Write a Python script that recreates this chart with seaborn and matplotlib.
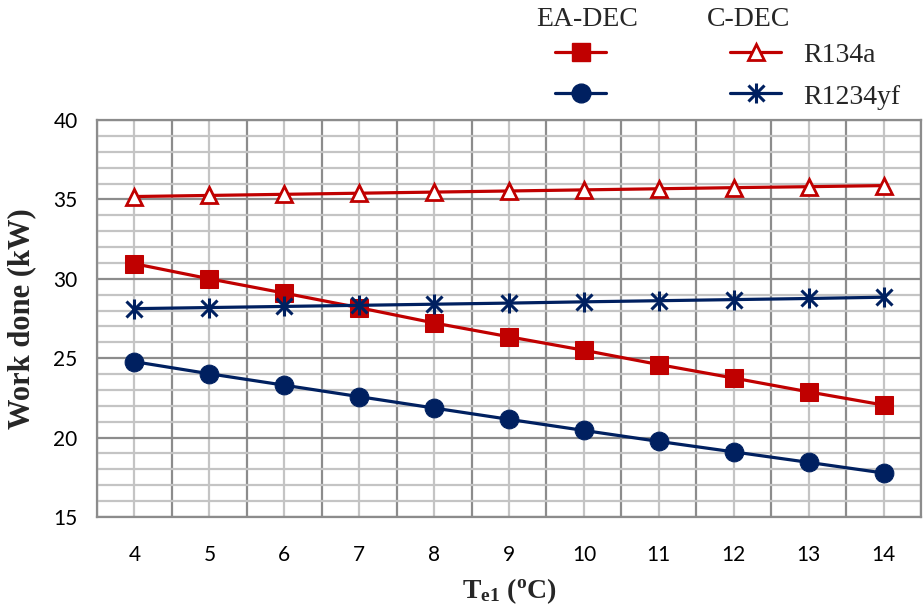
import matplotlib
matplotlib.use("Agg")
import matplotlib.pyplot as plt
from matplotlib.lines import Line2D
from matplotlib.ticker import MultipleLocator, FixedLocator
import seaborn as sns
import pandas as pd

te1 = [4, 5, 6, 7, 8, 9, 10, 11, 12, 13, 14]
ea_r134a = [30.95, 30.0, 29.1, 28.18, 27.22, 26.35, 25.5, 24.6, 23.75, 22.88, 22.05]
ea_r1234yf = [24.78, 24.02, 23.3, 22.58, 21.86, 21.15, 20.45, 19.76, 19.1, 18.44, 17.77]
c_r134a = [35.18, 35.25, 35.32, 35.39, 35.46, 35.53, 35.6, 35.67, 35.74, 35.8, 35.87]
c_r1234yf = [28.12, 28.19, 28.26, 28.33, 28.4, 28.47, 28.55, 28.62, 28.69, 28.76, 28.84]
y_ticks = [15, 20, 25, 30, 35, 40]
group_names = ["EA-DEC", "C-DEC"]
fluid_names = ["R134a", "R1234yf"]

red = "#C00000"
navy = "#002060"

sns.set_theme(style="white")
plt.rcParams["font.family"] = ["Liberation Serif", "DejaVu Serif"]
plt.rcParams["mathtext.fontset"] = "custom"
plt.rcParams["mathtext.rm"] = "Liberation Serif:bold"
plt.rcParams["mathtext.bf"] = "Liberation Serif:bold"
plt.rcParams["mathtext.it"] = "Liberation Serif:bold"

fig = plt.figure(figsize=(9.24, 6.09), dpi=100)
ax = fig.add_axes([97 / 924, 1 - 517 / 609, (921 - 97) / 924, (517 - 120) / 609])


def style(mk, col):
    kw = dict(marker=mk, color=col, linewidth=2.3)
    if mk == "s":
        kw.update(markersize=13.5, markerfacecolor=col, markeredgecolor=col)
    elif mk == "o":
        kw.update(markersize=13.5, markerfacecolor=col, markeredgecolor=col)
    elif mk == "^":
        kw.update(markersize=12, markerfacecolor="white", markeredgecolor=col, markeredgewidth=2.0)
    else:
        kw.update(markersize=11, markeredgecolor=col, markeredgewidth=2.2)
    return kw


series = [
    (ea_r134a, red, "s"),
    (ea_r1234yf, navy, "o"),
    (c_r134a, red, "^"),
    (c_r1234yf, navy, "x"),
]
for vals, col, mk in series:
    df = pd.DataFrame({"x": te1, "y": vals})
    sns.lineplot(data=df, x="x", y="y", ax=ax, zorder=3, **style(mk, col))

# asterisk: add a vertical bar to the "x" marker
ax.plot(te1, c_r1234yf, linestyle="none", marker="|", markersize=14,
        markeredgecolor=navy, markeredgewidth=2.2, zorder=4)

ax.set_xlim(3.5, 14.5)
ax.set_ylim(15, 40)
ax.xaxis.set_major_locator(FixedLocator(te1))
ax.xaxis.set_minor_locator(FixedLocator([v + 0.5 for v in [3] + te1]))
ax.yaxis.set_major_locator(FixedLocator(y_ticks))
ax.yaxis.set_minor_locator(MultipleLocator(1))

ax.grid(which="minor", axis="y", color="#c4c4c4", linewidth=1.6, zorder=0)
ax.grid(which="major", axis="y", color="#8c8c8c", linewidth=1.6, zorder=1)
ax.grid(which="major", axis="x", color="#c4c4c4", linewidth=1.6, zorder=0)
ax.grid(which="minor", axis="x", color="#8c8c8c", linewidth=1.6, zorder=1)
ax.set_axisbelow(True)

for s in ax.spines.values():
    s.set_color("#8c8c8c")
    s.set_linewidth(1.6)

ax.set_xticklabels([str(v) for v in te1])
ax.tick_params(axis="x", which="major", length=0, pad=20, labelsize=15, labelcolor="black")
ax.tick_params(axis="x", which="minor", length=8, width=1.6, color="#8c8c8c", direction="out")
ax.tick_params(axis="y", which="major", length=8, width=1.6, color="#8c8c8c", direction="out",
               labelsize=15, pad=6, labelcolor="black")
ax.tick_params(axis="y", which="minor", length=0)
for lab in ax.get_xticklabels() + ax.get_yticklabels():
    lab.set_family(["Lato", "DejaVu Sans"])

ax.set_xlabel(r"$\mathbf{T_{e1}}$ $\mathbf{(^{o}C)}$", fontsize=20, labelpad=8)
ax.set_ylabel("Work done (kW)", fontsize=22, fontweight="bold", labelpad=12)

# Two-column legend (EA-DEC / C-DEC), drawn in figure coordinates
W, H = 924, 609
fig.text(587 / W, 1 - 20 / H, group_names[0], ha="center", va="center", fontsize=20)
fig.text(749 / W, 1 - 20 / H, group_names[1], ha="center", va="center", fontsize=20)
rows_y = [52, 93]
for i, (vals, col, mk) in enumerate(series):
    col_idx, row_idx = divmod(i, 2)
    x0, x1 = (555, 606) if col_idx == 0 else (730, 781)
    y = 1 - rows_y[row_idx] / H
    kw = style(mk, col)
    kw["markevery"] = [1]
    fig.add_artist(Line2D([x0 / W, (x0 + x1) / 2 / W, x1 / W], [y, y, y],
                          transform=fig.transFigure, **kw))
    if mk == "x":
        fig.add_artist(Line2D([(x0 + x1) / 2 / W], [y], transform=fig.transFigure,
                              linestyle="none", marker="|", markersize=14,
                              markeredgecolor=col, markeredgewidth=2.2))
for j, name in enumerate(fluid_names):
    fig.text(803 / W, 1 - (rows_y[j] + 4) / H, name, ha="left", va="center", fontsize=20)

fig.savefig("out.png", dpi=100)
